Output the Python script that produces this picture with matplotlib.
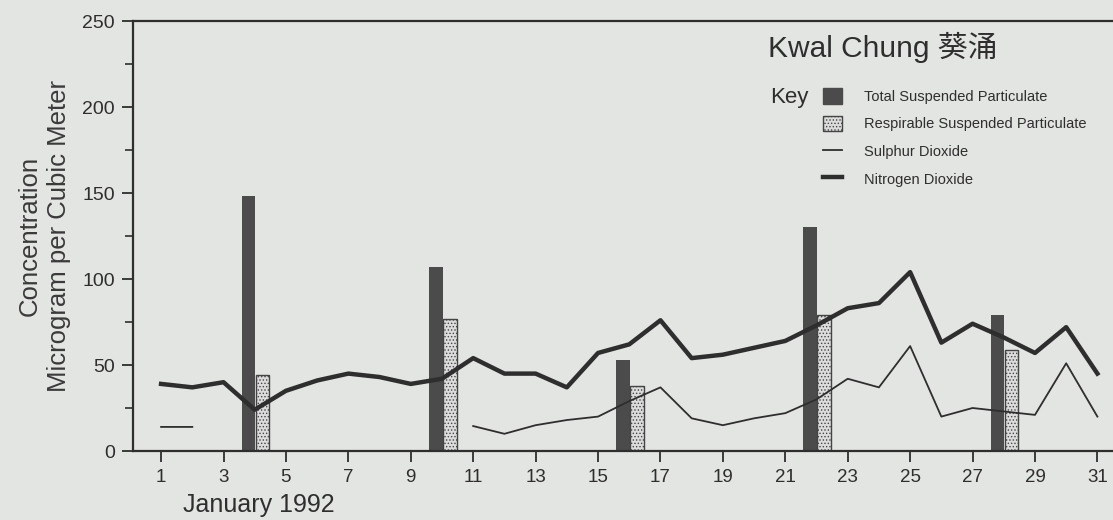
import numpy as np
import matplotlib.pyplot as plt
from matplotlib.patches import Patch
from matplotlib.lines import Line2D

# daily readings, January 1992 (micrograms per cubic meter)
days = np.arange(1, 32)
no2 = [39, 37, 40, 24, 35, 41, 45, 43, 39, 42, 54, 45, 45, 37, 57, 62,
       76, 54, 56, 60, 64, 73, 83, 86, 104, 63, 74, 66, 57, 72, 45]
so2 = [14, 14, np.nan, np.nan, np.nan, np.nan, np.nan, np.nan, np.nan, np.nan,
       14.5, 10, 15, 18, 20, 29, 37, 19, 15, 19, 22, 30, 42, 37, 61, 20,
       25, 23, 21, 51, 20]
bar_days = np.array([4, 10, 16, 22, 28])
tsp = [148, 107, 53, 130, 79]
rsp = [44, 77, 38, 79, 59]
xticks = list(range(1, 32, 2))

paper = '#e3e5e2'
ink = '#2e2e2e'
font = ['Liberation Sans', 'Noto Sans CJK TC', 'DejaVu Sans']
plt.rcParams['font.family'] = font
plt.rcParams['hatch.linewidth'] = 0.6

fig = plt.figure(figsize=(11.13, 5.2), dpi=100, facecolor=paper)
ax = fig.add_axes([133 / 1113, 69 / 520, 1 - 133 / 1113, 430 / 520])
ax.set_facecolor(paper)

ax.bar(bar_days - 0.2, tsp, width=0.44, color='#4b4b4b', zorder=2)
ax.bar(bar_days + 0.25, rsp, width=0.44, color='#dcdcdc', hatch='.....',
       edgecolor='#444444', linewidth=1, zorder=2)
ax.plot(days, so2, color=ink, lw=1.3, zorder=3)
ax.plot(days, no2, color=ink, lw=3.2, zorder=3)

ax.set_xlim(0.1, 31.5)
ax.set_ylim(0, 250)
ax.set_xticks(xticks)
ax.set_yticks(range(0, 251, 50))
ax.set_yticks(range(25, 250, 50), minor=True)
ax.tick_params(axis='y', which='major', length=8, width=1.3, color=ink,
               labelsize=14, pad=5, labelcolor=ink)
ax.tick_params(axis='y', which='minor', length=6, width=1.2, color=ink)
ax.tick_params(axis='x', length=8, width=1.3, color=ink, labelsize=13.5,
               pad=5, labelcolor=ink)
for s in ['left', 'bottom', 'top']:
    ax.spines[s].set_color(ink)
    ax.spines[s].set_linewidth(1.6)
ax.spines['right'].set_visible(False)

ax.set_ylabel('Concentration\nMicrogram per Cubic Meter', fontsize=18.5,
              color='#3a3a3a', labelpad=8, linespacing=1.3)
fig.text(183 / 1113, 1 - 512 / 520, 'January 1992', fontsize=18,
         color=ink, va='baseline', ha='left')

fig.text(768 / 1113, 1 - 47 / 520, 'Kwal Chung 葵涌', fontsize=21.5,
         color=ink, va='center', ha='left')
fig.text(770 / 1113, 1 - 97 / 520, 'Key', fontsize=16, color=ink,
         va='center', ha='left')

handles = [Patch(facecolor='#4b4b4b', edgecolor='#4b4b4b'),
           Patch(facecolor='#dcdcdc', edgecolor='#444444', hatch='.....'),
           Line2D([], [], color=ink, lw=1.3),
           Line2D([], [], color=ink, lw=3.2)]
labels = ['Total Suspended Particulate', 'Respirable Suspended Particulate',
          'Sulphur Dioxide', 'Nitrogen Dioxide']
fig.legend(handles, labels, loc='upper left',
           bbox_to_anchor=(823 / 1113, 1 - 88 / 520), frameon=False,
           fontsize=10.5, handlelength=1.3, handleheight=1.3,
           handletextpad=1.5, labelspacing=0.8, borderpad=0,
           borderaxespad=0, labelcolor=ink)

fig.savefig('out.png', dpi=100, facecolor=paper)
